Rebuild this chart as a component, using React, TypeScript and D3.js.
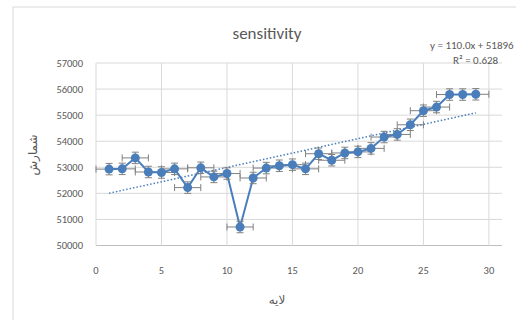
import React from "react";
import * as d3 from "d3";

// layer index (x) and count (y)
const layers = [1, 2, 3, 4, 5, 6, 7, 8, 9, 10, 11, 12, 13, 14, 15, 16, 17, 18, 19, 20, 21, 22, 23, 24, 25, 26, 27, 28, 29];
const counts = [
  52930, 52940, 53360, 52820, 52800, 52940, 52220, 52980, 52630, 52760,
  50710, 52590, 52970, 53060, 53100, 52940, 53520, 53270, 53550, 53590,
  53725, 54160, 54260, 54630, 55170, 55310, 55790, 55790, 55800,
];
const yErr = 220;
const xErr = 1;
const xTicks = [0, 5, 10, 15, 20, 25, 30];
const yTicks = [50000, 51000, 52000, 53000, 54000, 55000, 56000, 57000];
const trendSlope = 110.0;
const trendIntercept = 51896;

const W = 516;
const H = 320;
const BLUE = "#4a7ebb";
const GRID = "#d9d9d9";
const TEXT = "#595959";
const ERR = "#808080";
const FONT = "Carlito, Calibri, 'Open Sans', sans-serif";
const AR_FONT = "'Noto Sans', 'DejaVu Sans', sans-serif";

export default function App() {
  const x = d3.scaleLinear().domain([0, 31]).range([96, 502]);
  const y = d3.scaleLinear().domain([50000, 57000]).range([245.5, 63]);

  const pts = layers.map((l, i) => ({ x: l, y: counts[i] }));
  const line = d3.line<{ x: number; y: number }>().x(d => x(d.x)).y(d => y(d.y));
  const trendX = [layers[0], layers[layers.length - 1]];
  const trend = d3.line<number>().x(d => x(d)).y(d => y(trendSlope * d + trendIntercept));

  const cap = 3.5;

  return (
    <div style={{ position: "fixed", left: 0, top: 0 }}>
      <svg width={W} height={H} style={{ display: "block", background: "#fff" }} fontFamily={FONT}>
        <rect x={13} y={7} width={W} height={H} fill="#fff" stroke="#d9d9d9" strokeWidth={1} />

        {/* grid */}
        {yTicks.map(t => (
          <line key={"h" + t} x1={x(0)} x2={x(31)} y1={y(t)} y2={y(t)}
            stroke={t === 50000 ? "#bfbfbf" : GRID} strokeWidth={1} />
        ))}
        {xTicks.map(t => (
          <line key={"v" + t} x1={x(t)} x2={x(t)} y1={y(57000)} y2={y(50000)} stroke={GRID} strokeWidth={1} />
        ))}

        {/* tick labels */}
        {yTicks.map(t => (
          <text key={"yl" + t} x={83} y={y(t)} dy="0.35em" textAnchor="end" fontSize={10.5} fill={TEXT}>{t}</text>
        ))}
        {xTicks.map(t => (
          <text key={"xl" + t} x={x(t)} y={270} dy="0.35em" textAnchor="middle" fontSize={10.5} fill={TEXT}>{t}</text>
        ))}

        {/* trendline */}
        <path d={trend(trendX) || ""} fill="none" stroke={BLUE} strokeWidth={1.5} strokeDasharray="1.5,2" />

        {/* horizontal error bars */}
        {pts.map((p, i) => (
          <g key={"xe" + i} stroke={ERR} strokeWidth={1}>
            <line x1={x(p.x - xErr)} x2={x(p.x + xErr)} y1={y(p.y)} y2={y(p.y)} />
            <line x1={x(p.x - xErr)} x2={x(p.x - xErr)} y1={y(p.y) - cap} y2={y(p.y) + cap} />
            <line x1={x(p.x + xErr)} x2={x(p.x + xErr)} y1={y(p.y) - cap} y2={y(p.y) + cap} />
          </g>
        ))}

        {/* series line */}
        <path d={line(pts) || ""} fill="none" stroke={BLUE} strokeWidth={2} />

        {/* vertical error bars */}
        {pts.map((p, i) => (
          <g key={"ye" + i} stroke={ERR} strokeWidth={1}>
            <line x1={x(p.x)} x2={x(p.x)} y1={y(p.y - yErr)} y2={y(p.y + yErr)} />
            <line x1={x(p.x) - cap} x2={x(p.x) + cap} y1={y(p.y - yErr)} y2={y(p.y - yErr)} />
            <line x1={x(p.x) - cap} x2={x(p.x) + cap} y1={y(p.y + yErr)} y2={y(p.y + yErr)} />
          </g>
        ))}

        {/* markers */}
        {pts.map((p, i) => (
          <circle key={"m" + i} cx={x(p.x)} cy={y(p.y)} r={4.5} fill={BLUE} />
        ))}

        {/* titles */}
        <text x={267} y={33} dy="0.35em" textAnchor="middle" fontSize={17} fill={TEXT}>sensitivity</text>
        <text x={430} y={45} dy="0.35em" fontSize={11} fill={TEXT}>y = 110.0x + 51896</text>
        <text x={453} y={60} dy="0.35em" fontSize={11} fill={TEXT}>R² = 0.628</text>
        <text x={277} y={300} dy="0.35em" textAnchor="middle" fontSize={12} fill={TEXT}
          fontFamily={AR_FONT}>لایه</text>
        <text transform={`translate(33,155) rotate(-90)`} dy="0.35em" textAnchor="middle" fontSize={12} fill={TEXT}
          fontFamily={AR_FONT}>شمارش</text>
      </svg>
    </div>
  );
}
